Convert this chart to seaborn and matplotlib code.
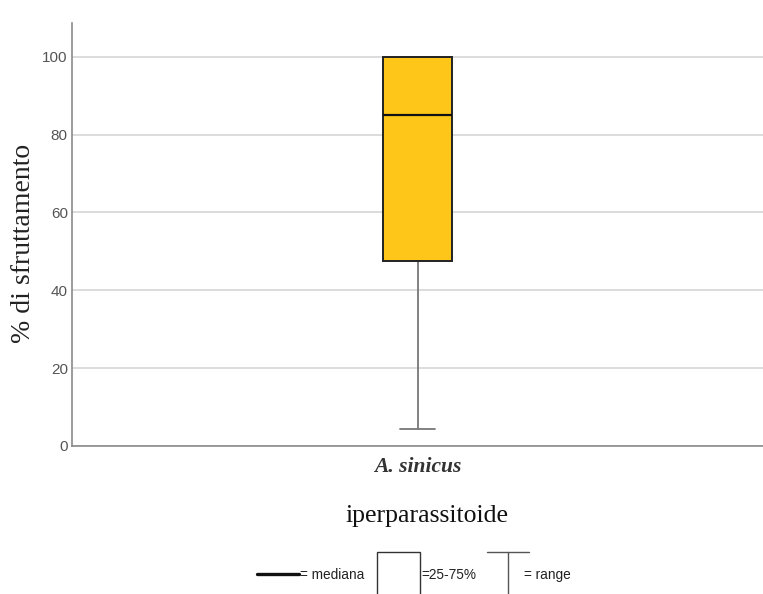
import matplotlib
matplotlib.use("Agg")
import matplotlib.pyplot as plt
import seaborn as sns
import pandas as pd
from matplotlib.lines import Line2D
from matplotlib.patches import Rectangle

# Exploitation percentages for the hyperparasitoid
species = ["A. sinicus"]
sfruttamento = [4.3, 47.6, 85.1, 100.0, 100.0]
y_ticks = [0, 20, 40, 60, 80, 100]

df = pd.DataFrame({
    "iperparassitoide": species * len(sfruttamento),
    "sfruttamento": sfruttamento,
})

sns.set_theme(style="white")
fig = plt.figure(figsize=(7.63, 5.94), dpi=100)
ax = fig.add_axes([0.0944, 0.2492, 0.9056, 0.7121])

sns.boxplot(
    data=df, x="iperparassitoide", y="sfruttamento", ax=ax,
    width=0.1, whis=(0, 100), color="#FFC61A", saturation=1,
    linewidth=1.4, linecolor="#222222",
    whiskerprops=dict(color="#777777", linewidth=1.3),
    capprops=dict(color="#777777", linewidth=1.3),
    medianprops=dict(color="#111111", linewidth=1.6),
    zorder=3,
)

# whiskers and caps sit behind the box outline (the upper cap coincides
# with the 75th percentile), the median stays on top
bp = ax.containers[0]
for line in list(bp.whiskers) + list(bp.caps):
    line.set_zorder(2.5)
for line in bp.medians:
    line.set_zorder(4)

ax.set_xlim(-0.5, 0.5)
ax.set_ylim(0, 108.7)
ax.set_yticks(y_ticks)
ax.set_yticklabels([str(t) for t in y_ticks], fontsize=11,
                   family="Liberation Sans", color="#555555")
ax.set_xticks([0])
ax.set_xticklabels(species, fontsize=15.5, family="Liberation Serif",
                   style="italic", weight="bold", color="#333333")
ax.tick_params(axis="y", length=0, pad=3)
ax.tick_params(axis="x", length=0, pad=8)
ax.yaxis.grid(True, color="#d9d9d9", linewidth=1.3, zorder=0)
ax.set_axisbelow(True)
for side in ["top", "right"]:
    ax.spines[side].set_visible(False)
for side in ["left", "bottom"]:
    ax.spines[side].set_color("#8a8a8a")
    ax.spines[side].set_linewidth(1.2)

ax.set_ylabel("% di sfruttamento", fontsize=20, family="Liberation Serif",
              color="#222222")
ax.yaxis.set_label_coords(-0.052, 0.48)
ax.set_xlabel("iperparassitoide", fontsize=18.5, family="Liberation Serif",
              color="#111111", labelpad=20)
ax.xaxis.label.set_x(0.514)

# Key explaining the box elements
W, H = 763, 594

def fx(px):
    return px / W

def fy(py):
    return 1 - py / H

fig.add_artist(Line2D([fx(257), fx(299)], [fy(574), fy(574)],
                      color="#111111", linewidth=2.4))
fig.text(fx(300), fy(575), "= mediana", fontsize=9.8,
         family="Liberation Sans", va="center", ha="left", color="#222222")
fig.add_artist(Rectangle((fx(377), fy(600)), fx(43), fy(552) - fy(600),
                         fill=False, edgecolor="#333333", linewidth=1.0))
fig.text(fx(421), fy(575), "=25-75%", fontsize=9.8,
         family="Liberation Sans", va="center", ha="left", color="#222222")
fig.add_artist(Line2D([fx(487), fx(529)], [fy(552), fy(552)],
                      color="#555555", linewidth=1.0))
fig.add_artist(Line2D([fx(508), fx(508)], [fy(552), fy(600)],
                      color="#555555", linewidth=1.0))
fig.text(fx(524), fy(575), "= range", fontsize=9.8,
         family="Liberation Sans", va="center", ha="left", color="#222222")

fig.savefig("out.png", dpi=100, facecolor="white")
